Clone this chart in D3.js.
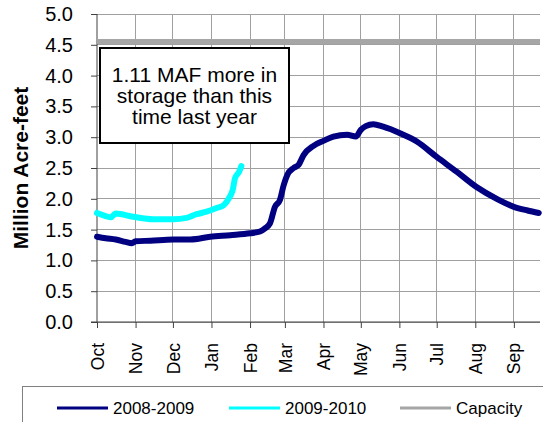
<!DOCTYPE html>
<html><head><meta charset="utf-8">
<script src="https://cdn.jsdelivr.net/npm/d3@7"></script>
<style>body{margin:0;background:#fff}svg{display:block;font-family:Arial,"Liberation Sans",sans-serif}</style>
</head><body><svg id="c" width="543" height="422"></svg>
<script>
// Day of water year (0 = Oct 1)
const monthLabels = ["Oct","Nov","Dec","Jan","Feb","Mar","Apr","May","Jun","Jul","Aug","Sep"];
const monthStarts = [0,31,61,92,123,151,182,212,243,273,304,335];
const yTicks = [0,0.5,1,1.5,2,2.5,3,3.5,4,4.5,5];
const seriesNames = ["2008-2009","2009-2010","Capacity"];
const seriesColors = ["#000080","#00FFFF","#A6A6A6"];

const days2008 = [0,7,15,23,28,31,43,61,75,91,107,123,131,135,139,143,147,150,153,158,162,166,174,182,190,201,208,212,216,222,230,244,257,273,289,305,322,335,346,355];
const vals2008 = [1.385,1.36,1.34,1.30,1.28,1.31,1.32,1.34,1.34,1.385,1.41,1.44,1.47,1.52,1.60,1.87,1.98,2.22,2.39,2.50,2.55,2.71,2.86,2.94,3.01,3.04,3.01,3.12,3.18,3.21,3.17,3.06,2.93,2.68,2.44,2.19,1.99,1.87,1.81,1.77];
const days2009 = [0,7,11,15,29,45,61,72,80,88,96,102,106,109,111,114,116];
const vals2009 = [1.77,1.72,1.70,1.76,1.71,1.67,1.67,1.69,1.75,1.79,1.85,1.90,2.01,2.14,2.34,2.43,2.53];
const capacity = 4.552;
const annotation = ["1.11 MAF more in","storage than this","time last year"];

const svg = d3.select("#c");
const L=97, R=540, T=14, B=322;
const x = d3.scaleLinear().domain([0,356]).range([L,R]);
const y = d3.scaleLinear().domain([0,5]).range([B,T]);
const FF = "Arial,'Liberation Sans',sans-serif";

// gridlines
svg.append("g").selectAll("line").data(yTicks).join("line")
  .attr("x1",L).attr("x2",R).attr("y1",d=>y(d)).attr("y2",d=>y(d))
  .attr("stroke","#a0a0a0").attr("stroke-width",1).attr("shape-rendering","crispEdges");
svg.append("g").selectAll("line").data(monthStarts.slice(1)).join("line")
  .attr("x1",d=>x(d)).attr("x2",d=>x(d)).attr("y1",T).attr("y2",B)
  .attr("stroke","#a0a0a0").attr("stroke-width",1).attr("shape-rendering","crispEdges");

// y axis
const yAxis = d3.axisLeft(y).tickValues(yTicks).tickFormat(d3.format(".1f")).tickSize(6).tickPadding(18);
const gy = svg.append("g").attr("transform",`translate(${L},0)`).call(yAxis);
gy.select(".domain").attr("stroke","#404040").attr("d",`M0,${T}V${B}`);
gy.selectAll(".tick line").attr("stroke","#404040");
gy.selectAll("text").attr("font-size",20).attr("fill","#000").attr("font-family",FF);

// x axis
const xAxis = d3.axisBottom(x).tickValues(monthStarts).tickFormat((d,i)=>monthLabels[i]).tickSize(6);
const gx = svg.append("g").attr("transform",`translate(0,${B})`).call(xAxis);
gx.select(".domain").attr("stroke","#404040").attr("d",`M${L-6},0H${R}`);
gx.selectAll(".tick line").attr("stroke","#404040");
gx.selectAll("text").attr("font-size",17.5).attr("fill","#000").attr("font-family",FF)
  .attr("transform","rotate(-90)").attr("text-anchor","end").attr("dy","0.35em").attr("x",-21).attr("y",0);

// axis title
svg.append("text").attr("transform",`translate(28,${(T+B)/2}) rotate(-90)`)
  .attr("text-anchor","middle").attr("font-weight","bold").attr("font-size",21).attr("font-family",FF).text("Million Acre-feet");

// capacity line
svg.append("line").attr("x1",L).attr("x2",R).attr("y1",y(capacity)).attr("y2",y(capacity))
  .attr("stroke",seriesColors[2]).attr("stroke-width",5);

const line = d3.line().x(d=>x(d[0])).y(d=>y(d[1])).curve(d3.curveMonotoneX);
svg.append("path").datum(days2009.map((d,i)=>[d,vals2009[i]])).attr("d",line)
  .attr("fill","none").attr("stroke",seriesColors[1]).attr("stroke-width",6).attr("stroke-linejoin","round").attr("stroke-linecap","round");
svg.append("path").datum(days2008.map((d,i)=>[d,vals2008[i]])).attr("d",line)
  .attr("fill","none").attr("stroke",seriesColors[0]).attr("stroke-width",6).attr("stroke-linejoin","round").attr("stroke-linecap","round");

// annotation box
svg.append("rect").attr("x",100).attr("y",48).attr("width",189).attr("height",95)
  .attr("fill","#fff").attr("stroke","#000").attr("stroke-width",2);
svg.append("g").selectAll("text").data(annotation).join("text")
  .attr("x",194.5).attr("y",(d,i)=>82+i*21).attr("text-anchor","middle").attr("font-size",21).attr("font-family",FF).text(d=>d);

// legend
svg.append("rect").attr("x",22.5).attr("y",386.5).attr("width",540).attr("height",50)
  .attr("fill","#fff").attr("stroke","#808080").attr("stroke-width",1);
const legX = [57,229,400];
const lg = svg.append("g").selectAll("g").data(seriesNames).join("g").attr("transform",(d,i)=>`translate(${legX[i]},408)`);
lg.append("line").attr("x1",0).attr("x2",51).attr("stroke",(d,i)=>seriesColors[i]).attr("stroke-width",3);
lg.append("text").attr("x",56).attr("dy","0.35em").attr("font-size",17).attr("font-family",FF).text(d=>d);
</script></body></html>
